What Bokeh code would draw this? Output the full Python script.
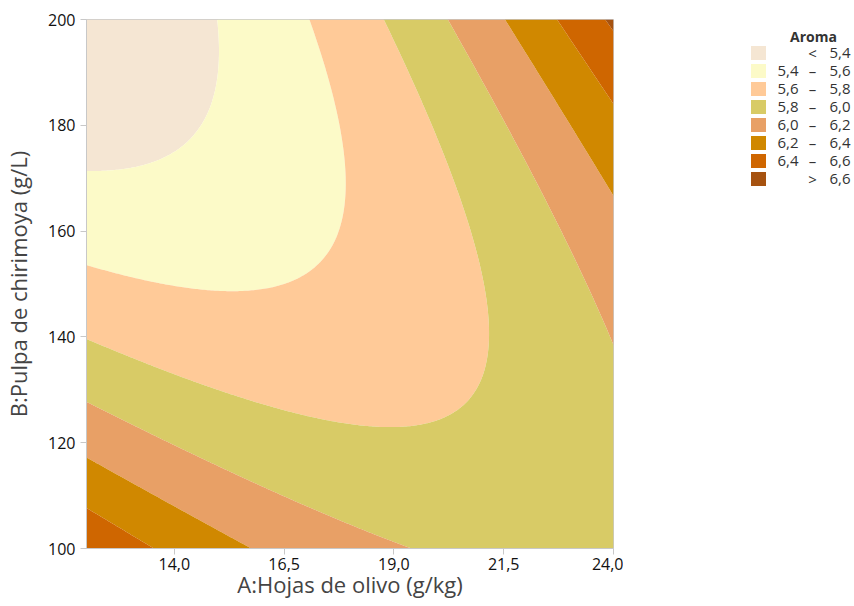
import numpy as np
from bokeh.plotting import figure
from bokeh.layouts import row
from bokeh.models import FixedTicker, CustomJSTickFormatter, Range1d
from bokeh.core.properties import value
from bokeh.embed import file_html
from bokeh.resources import INLINE

# Fitted response surface for "Aroma" (coded factors A=(x-18)/6, B=(y-150)/50),
# coefficients estimated from the contour positions in the picture
intercept = 5.6384
coef_A = 0.2078
coef_B = -0.1765
coef_AB = 0.5064
coef_AA = 0.2169
coef_BB = 0.2430

x_limits = [12.0, 24.0]
y_limits = [100.0, 200.0]
levels = [5.4, 5.6, 5.8, 6.0, 6.2, 6.4, 6.6]
colors = ["#F5E6D3", "#FCFAC8", "#FFCA98", "#D8CB66", "#E8A066", "#D08800", "#CF6600", "#A65210"]
x_ticks = [14.0, 16.5, 19.0, 21.5, 24.0]
y_ticks = [100, 120, 140, 160, 180, 200]
legend_title = "Aroma"
x_label = "A:Hojas de olivo (g/kg)"
y_label = "B:Pulpa de chirimoya (g/L)"

gx = np.linspace(x_limits[0], x_limits[1], 301)
gy = np.linspace(y_limits[0], y_limits[1], 301)
GX, GY = np.meshgrid(gx, gy)
CA = (GX - 18) / 6
CB = (GY - 150) / 50
GZ = (intercept + coef_A * CA + coef_B * CB + coef_AB * CA * CB
      + coef_AA * CA ** 2 + coef_BB * CB ** 2)

FONT = "Open Sans"
H = 605
p = figure(width=623, height=H, x_range=Range1d(*x_limits), y_range=Range1d(*y_limits),
           output_backend="svg", toolbar_location=None,
           min_border_left=86, min_border_top=19, min_border_right=10,
           min_border_bottom=H - 19 - 529)
lv = [min(GZ.min(), 5.0) - 0.01] + levels + [max(GZ.max(), 7.0) + 0.01]
p.contour(gx, gy, GZ, lv, fill_color=colors, line_color=None)

p.xgrid.visible = False
p.ygrid.visible = False
p.outline_line_color = "#c8c8c8"
p.xaxis.ticker = FixedTicker(ticks=x_ticks)
p.yaxis.ticker = FixedTicker(ticks=y_ticks)
p.xaxis.formatter = CustomJSTickFormatter(code="return tick.toFixed(1).replace('.', ',');")
p.xaxis.axis_label = x_label
p.yaxis.axis_label = y_label
for ax in (p.xaxis[0], p.yaxis[0]):
    ax.axis_line_color = "#c8c8c8"
    ax.major_tick_line_color = "#c8c8c8"
    ax.major_tick_out = 6
    ax.major_tick_in = 0
    ax.minor_tick_line_color = None
    ax.major_label_text_font = FONT
    ax.major_label_text_font_size = "16px"
    ax.major_label_text_color = "#111111"
    ax.axis_label_text_font = FONT
    ax.axis_label_text_font_size = "22px"
    ax.axis_label_text_font_style = "normal"
    ax.axis_label_text_color = "#444444"
p.xaxis[0].major_label_standoff = 3
p.xaxis[0].axis_label_standoff = -4
p.xaxis[0].axis_label_text_baseline = "top"
p.yaxis[0].axis_label_standoff = 12

# legend panel (its frame is aligned with the main frame: page y 19..548)
LW = 229
lg = figure(width=LW, height=H, x_range=Range1d(0, LW), y_range=Range1d(548, 19),
            output_backend="svg", toolbar_location=None, min_border=0)
lg.axis.visible = False
lg.grid.visible = False
lg.outline_line_color = None
n = len(colors)
row_y = [52.5 + 18 * i for i in range(n)]
lg.rect(x=[135] * n, y=row_y, width=15, height=14, fill_color=colors, line_color=None)
fmt = lambda v: f"{v:.1f}".replace(".", ",")
lows = [""] + [fmt(v) for v in levels[:-1]] + [""]
mids = ["<"] + ["–"] * (n - 2) + [">"]
highs = [fmt(v) for v in levels] + [fmt(levels[-1])]
common = dict(text_baseline="middle", text_font=value(FONT), text_font_size="15px",
              text_color="#333333")
lg.text(x=[175] * n, y=row_y, text=lows, text_align="right", **common)
lg.text(x=[189] * n, y=row_y, text=mids, text_align="center", **common)
lg.text(x=[227] * n, y=row_y, text=highs, text_align="right", **common)
lg.text(x=[190], y=[36], text=[legend_title], text_align="center", text_baseline="middle",
        text_font=value(FONT), text_font_size="14px", text_font_style="bold",
        text_color="#333333")

layout = row(p, lg)
open("out.html", "w").write(file_html(layout, INLINE))
